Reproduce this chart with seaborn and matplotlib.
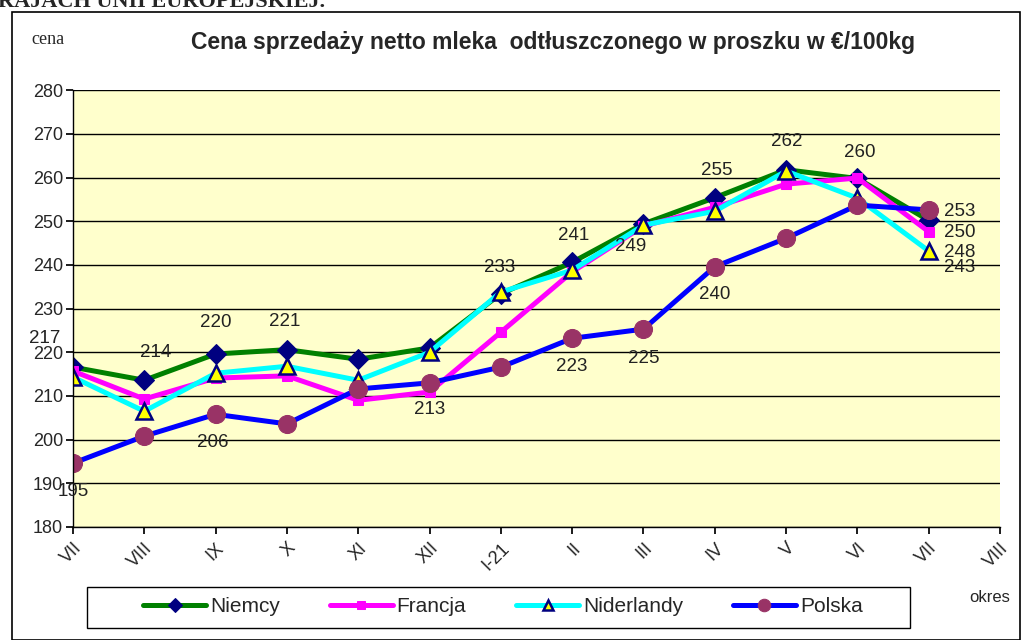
import numpy as np
import pandas as pd
import seaborn as sns
import matplotlib.pyplot as plt
from matplotlib.patches import Rectangle

# dane
okresy = ["VII", "VIII", "IX", "X", "XI", "XII", "I-21", "II", "III", "IV", "V", "VI", "VII", "VIII"]
niemcy = [216.6, 213.6, 219.6, 220.6, 218.4, 221.0, 233.4, 240.6, 249.4, 255.4, 261.8, 259.8, 250.2]
francja = [215.7, 209.3, 214.1, 214.6, 209.0, 210.9, 224.6, 238.4, 248.9, 253.2, 258.5, 259.9, 247.6]
niderlandy = [214.3, 206.5, 215.2, 216.8, 213.6, 220.0, 233.8, 238.8, 249.1, 252.3, 261.5, 255.3, 243.2]
polska = [194.6, 200.8, 205.8, 203.6, 211.6, 213.0, 216.6, 223.2, 225.3, 239.6, 246.1, 253.7, 252.6]

x = np.arange(len(niemcy))

sns.set_theme(style="white")
plt.rcParams['font.family'] = ['Liberation Sans', 'DejaVu Sans']

fig = plt.figure(figsize=(10.26, 6.4), dpi=100)
ax = fig.add_axes([0.0711, 0.1766, 0.9036, 0.6824])
ax.set_facecolor("#FFFFCC")

# ramka całości i ramka legendy
fig.patches.append(Rectangle((12 / 1026, 0), 1008 / 1026, 628 / 640, transform=fig.transFigure,
                             fill=False, edgecolor="black", linewidth=1.2))
fig.patches.append(Rectangle((87 / 1026, 12 / 640), 823 / 1026, 41 / 640, transform=fig.transFigure,
                             fill=False, edgecolor="black", linewidth=1))

sns.lineplot(x=x, y=niemcy, ax=ax, color="#008000", linewidth=3.6, marker="D", markersize=10,
             markerfacecolor="#000080", markeredgecolor="#000080", label="Niemcy")
sns.lineplot(x=x, y=francja, ax=ax, color="#FF00FF", linewidth=3.6, marker="s", markersize=7.5,
             markerfacecolor="#FF00FF", markeredgecolor="#FF00FF", label="Francja")
sns.lineplot(x=x, y=niderlandy, ax=ax, color="#00FFFF", linewidth=3.6, marker="^", markersize=11,
             markerfacecolor="#FFFF00", markeredgecolor="#000080", markeredgewidth=1.8, label="Niderlandy")
sns.lineplot(x=x, y=polska, ax=ax, color="#0000FF", linewidth=3.6, marker="o", markersize=13,
             markerfacecolor="#993366", markeredgecolor="#993366", label="Polska")

# etykiety wartości
lab_kw = dict(fontsize=13.5, color="#222222", ha="center", va="center", textcoords="offset pixels")
for i, dx, dy in [(0, -28, 29), (1, 11, 28), (2, 0, 32), (3, -2, 28), (6, -1, 26), (7, 1, 27),
                  (8, -13, -23), (9, 2, 27), (10, 1, 28), (11, 2, 26)]:
    ax.annotate(f"{niemcy[i]:.0f}", (x[i], niemcy[i]), xytext=(dx, dy), **lab_kw)
for i, dx, dy in [(0, 0, -28), (2, -3, -28), (5, 0, -27), (7, 0, -28), (8, 0, -29), (9, 0, -28)]:
    ax.annotate(f"{polska[i]:.0f}", (x[i], polska[i]), xytext=(dx, dy), **lab_kw)
end_kw = dict(fontsize=13.5, color="#222222", ha="left", va="center", textcoords="offset pixels")
ax.annotate(f"{polska[12]:.0f}", (x[12], polska[12]), xytext=(15, -2), **end_kw)
ax.annotate(f"{niemcy[12]:.0f}", (x[12], niemcy[12]), xytext=(15, -12), **end_kw)
ax.annotate(f"{francja[12]:.0f}", (x[12], francja[12]), xytext=(15, -21), **end_kw)
ax.annotate(f"{niderlandy[12]:.0f}", (x[12], niderlandy[12]), xytext=(15, -17), **end_kw)

ax.set_xlim(0, len(okresy) - 1)
ax.set_ylim(180, 280)
ax.set_yticks(range(180, 281, 10))
ax.set_xticks(range(len(okresy)))
ax.set_xticklabels(okresy, rotation=45, ha="right", rotation_mode="anchor", fontsize=13)
ax.tick_params(axis="y", labelsize=13, length=5, direction="out", left=True, color="black", pad=2)
ax.tick_params(axis="x", length=5, direction="out", bottom=True, color="black", pad=4)
ax.grid(axis="y", color="black", linewidth=1)
for s in ["top", "right"]:
    ax.spines[s].set_visible(False)
for s in ["left", "bottom"]:
    ax.spines[s].set_color("black")
    ax.spines[s].set_linewidth(1)

leg = ax.legend(loc="center", bbox_to_anchor=(503 / 1026, 33 / 640), bbox_transform=fig.transFigure,
                ncol=4, fontsize=15, frameon=False, handlelength=3, handletextpad=0.2,
                borderaxespad=0, columnspacing=2.4)
for h, ms in zip(leg.legend_handles, [7, 5.5, 7, 9]):
    h.set_markersize(ms)

fig.text(553 / 1026, 1 - 42 / 640, "Cena sprzedaży netto mleka  odtłuszczonego w proszku w €/100kg",
         ha="center", va="center", fontsize=16.5, fontweight="bold")
fig.text(48 / 1026, 1 - 40 / 640, "cena", ha="center", va="center", fontsize=13, family="Liberation Serif")
fig.text(990 / 1026, 1 - 597 / 640, "okres", ha="center", va="center", fontsize=12)
fig.text(-2 / 1026, 1 - 2 / 640, "RAJACH UNII EUROPEJSKIEJ.", ha="left", va="center", fontsize=16,
         fontweight="bold", family="Liberation Serif")

fig.savefig("out.png", dpi=100, facecolor="white")
